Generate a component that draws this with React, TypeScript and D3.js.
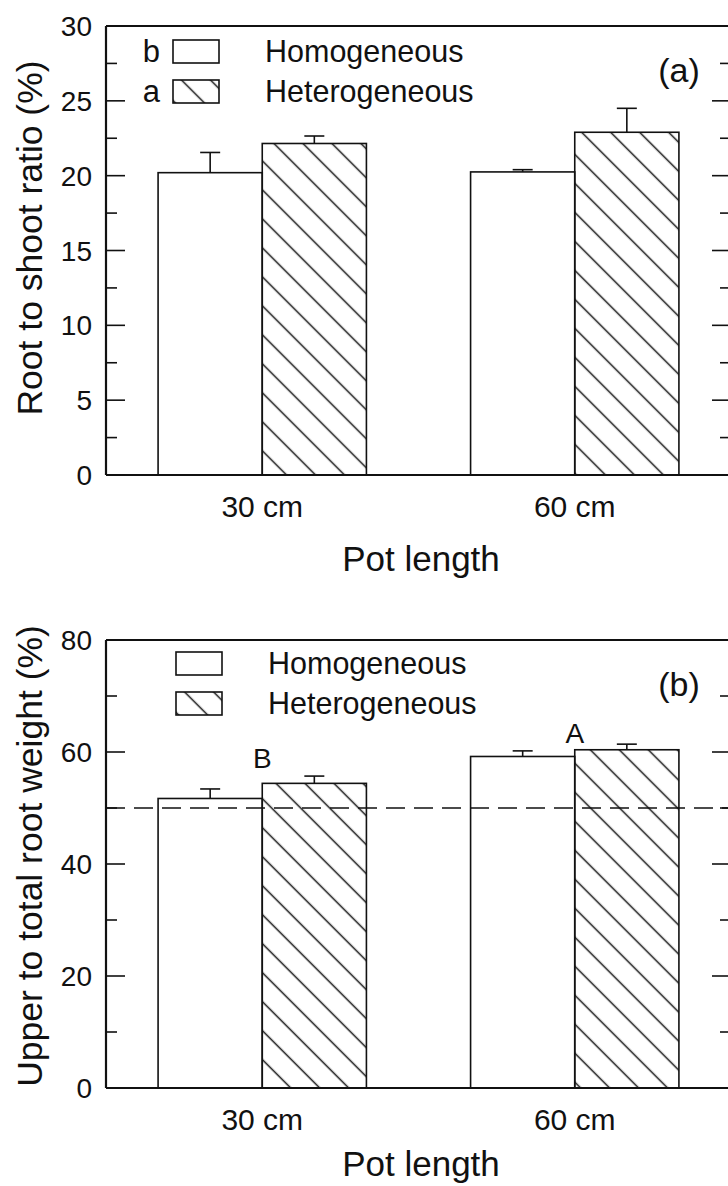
import React from "react";
import * as d3 from "d3";

const categories = ["30 cm", "60 cm"];
const seriesNames = ["Homogeneous", "Heterogeneous"];

// Panel (a): root to shoot ratio (%)
const ratioHomo = [20.2, 20.25];
const ratioHomoErr = [1.35, 0.15];
const ratioHetero = [22.15, 22.9];
const ratioHeteroErr = [0.5, 1.6];
const ratioTicks = [0, 5, 10, 15, 20, 25, 30];
const ratioMinor = [2.5, 7.5, 12.5, 17.5, 22.5, 27.5];
const ratioLegendLetters = ["b", "a"];

// Panel (b): upper to total root weight (%)
const upperHomo = [51.7, 59.2];
const upperHomoErr = [1.7, 1.0];
const upperHetero = [54.4, 60.4];
const upperHeteroErr = [1.3, 1.0];
const upperTicks = [0, 20, 40, 60, 80];
const upperMinor = [10, 30, 50, 70];
const upperRefLine = 50;
const upperGroupLetters = ["B", "A"];

const FONT = "'Liberation Sans', Arial, Helvetica, sans-serif";
const W = 728;
const H = 1186;

type PanelProps = {
  top: number;
  bottom: number;
  yMax: number;
  homo: number[];
  homoErr: number[];
  hetero: number[];
  heteroErr: number[];
  ticks: number[];
  minor: number[];
  yLabel: string;
  yLabelY: number;
  xTitleDy: number;
  tag: string;
  legendX: number;
  legendY: number;
  legendLetters?: string[];
  refLine?: number;
  groupLetters?: string[];
  groupLetterDy?: number[];
};

function Panel(p: PanelProps) {
  const x0 = d3
    .scaleBand<string>()
    .domain(categories)
    .range([106, 731])
    .paddingInner(1 / 3)
    .paddingOuter(1 / 6);
  const x1 = d3
    .scaleBand<string>()
    .domain(seriesNames)
    .range([0, x0.bandwidth()])
    .padding(0);
  const y = d3.scaleLinear().domain([0, p.yMax]).range([p.bottom, p.top]);
  const left = 106;
  const right = 731;
  const bw = x1.bandwidth();
  const capHalf = 10;

  const series = [
    { name: seriesNames[0], vals: p.homo, errs: p.homoErr, fill: "#ffffff" },
    { name: seriesNames[1], vals: p.hetero, errs: p.heteroErr, fill: "url(#hatch)" },
  ];

  return (
    <g>
      {categories.map((c, ci) =>
        series.map((s) => {
          const bx = (x0(c) as number) + (x1(s.name) as number);
          const v = s.vals[ci];
          const e = s.errs[ci];
          const cx = bx + bw / 2;
          return (
            <g key={c + s.name}>
              <line x1={cx} x2={cx} y1={y(v)} y2={y(v + e)} stroke="#111" strokeWidth={1.6} />
              <line x1={cx - capHalf} x2={cx + capHalf} y1={y(v + e)} y2={y(v + e)} stroke="#111" strokeWidth={1.6} />
              <rect x={bx} y={y(v)} width={bw} height={y(0) - y(v)} fill={s.fill} stroke="#111" strokeWidth={1.6} />
            </g>
          );
        })
      )}
      {p.refLine !== undefined && (
        <line
          x1={left}
          x2={right}
          y1={y(p.refLine)}
          y2={y(p.refLine)}
          stroke="#111"
          strokeWidth={1.6}
          strokeDasharray="19 9"
        />
      )}
      {p.groupLetters &&
        categories.map((c, ci) => (
          <text
            key={"gl" + c}
            x={(x0(c) as number) + x0.bandwidth() / 2}
            y={y(Math.max(p.homo[ci] + p.homoErr[ci], p.hetero[ci] + p.heteroErr[ci])) + (p.groupLetterDy ? p.groupLetterDy[ci] : 0)}
            textAnchor="middle"
            fontSize={28}
            fontFamily={FONT}
            fill="#111"
          >
            {p.groupLetters![ci]}
          </text>
        ))}
      <line x1={left} x2={right} y1={p.top} y2={p.top} stroke="#111" strokeWidth={2.2} />
      <line x1={left} x2={right} y1={p.bottom} y2={p.bottom} stroke="#111" strokeWidth={2.2} />
      <line x1={left} x2={left} y1={p.top} y2={p.bottom} stroke="#111" strokeWidth={2.2} />
      <line x1={right} x2={right} y1={p.top} y2={p.bottom} stroke="#111" strokeWidth={2.2} />
      {p.ticks.map((t) => (
        <g key={"t" + t}>
          <line x1={left} x2={left + 19} y1={y(t)} y2={y(t)} stroke="#111" strokeWidth={1.6} />
          <line x1={right} x2={right - 19} y1={y(t)} y2={y(t)} stroke="#111" strokeWidth={1.6} />
          <text x={92} y={y(t)} dy="0.36em" textAnchor="end" fontSize={28} fontFamily={FONT} fill="#111">
            {t}
          </text>
        </g>
      ))}
      {p.minor.map((t) => (
        <g key={"m" + t}>
          <line x1={left} x2={left + 11} y1={y(t)} y2={y(t)} stroke="#111" strokeWidth={1.6} />
          <line x1={right} x2={right - 11} y1={y(t)} y2={y(t)} stroke="#111" strokeWidth={1.6} />
        </g>
      ))}
      {categories.map((c) => (
        <text
          key={"c" + c}
          x={(x0(c) as number) + x0.bandwidth() / 2}
          y={p.bottom + 42}
          textAnchor="middle"
          fontSize={30}
          fontFamily={FONT}
          fill="#111"
        >
          {c}
        </text>
      ))}
      <text x={421} y={p.bottom + p.xTitleDy} textAnchor="middle" fontSize={35} fontFamily={FONT} fill="#111">
        Pot length
      </text>
      <text
        transform={`translate(42,${p.yLabelY}) rotate(-90)`}
        textAnchor="middle"
        fontSize={35.5}
        fontFamily={FONT}
        fill="#111"
      >
        {p.yLabel}
      </text>
      <text x={679} y={p.top + 56} textAnchor="middle" fontSize={34} fontFamily={FONT} fill="#111">
        {p.tag}
      </text>
      {series.map((s, i) => (
        <g key={"lg" + s.name}>
          {p.legendLetters && (
            <text
              x={p.legendX - 13}
              y={p.legendY + i * 40 + 22}
              textAnchor="end"
              fontSize={31}
              fontFamily={FONT}
              fill="#111"
            >
              {p.legendLetters[i]}
            </text>
          )}
          <rect
            x={p.legendX}
            y={p.legendY + i * 40}
            width={46}
            height={23}
            fill={s.fill}
            stroke="#111"
            strokeWidth={1.6}
          />
          <text x={p.legendX + 92} y={p.legendY + i * 40 + 22} fontSize={30.5} fontFamily={FONT} fill="#111">
            {s.name}
          </text>
        </g>
      ))}
    </g>
  );
}

export default function App() {
  return (
    <div style={{ position: "absolute", left: 0, top: 0 }}>
      <svg width={W} height={H} viewBox={`0 0 ${W} ${H}`} style={{ display: "block", background: "#fff" }}>
        <defs>
          <pattern
            id="hatch"
            patternUnits="userSpaceOnUse"
            width={20.5}
            height={20.5}
            patternTransform="rotate(-45)"
          >
            <line x1={10.25} x2={10.25} y1={-1} y2={21.5} stroke="#111" strokeWidth={1.5} />
          </pattern>
        </defs>
        <rect width={W} height={H} fill="#fff" />
        <Panel
          top={26}
          bottom={475}
          yMax={30}
          homo={ratioHomo}
          homoErr={ratioHomoErr}
          hetero={ratioHetero}
          heteroErr={ratioHeteroErr}
          ticks={ratioTicks}
          minor={ratioMinor}
          yLabel="Root to shoot ratio (%)"
          yLabelY={238}
          xTitleDy={96}
          tag="(a)"
          legendX={173}
          legendY={40}
          legendLetters={ratioLegendLetters}
        />
        <Panel
          top={640}
          bottom={1088}
          yMax={80}
          homo={upperHomo}
          homoErr={upperHomoErr}
          hetero={upperHetero}
          heteroErr={upperHeteroErr}
          ticks={upperTicks}
          minor={upperMinor}
          yLabel="Upper to total root weight (%)"
          yLabelY={856}
          xTitleDy={88}
          tag="(b)"
          legendX={176}
          legendY={652}
          refLine={upperRefLine}
          groupLetters={upperGroupLetters}
          groupLetterDy={[-8, -1]}
        />
      </svg>
    </div>
  );
}
